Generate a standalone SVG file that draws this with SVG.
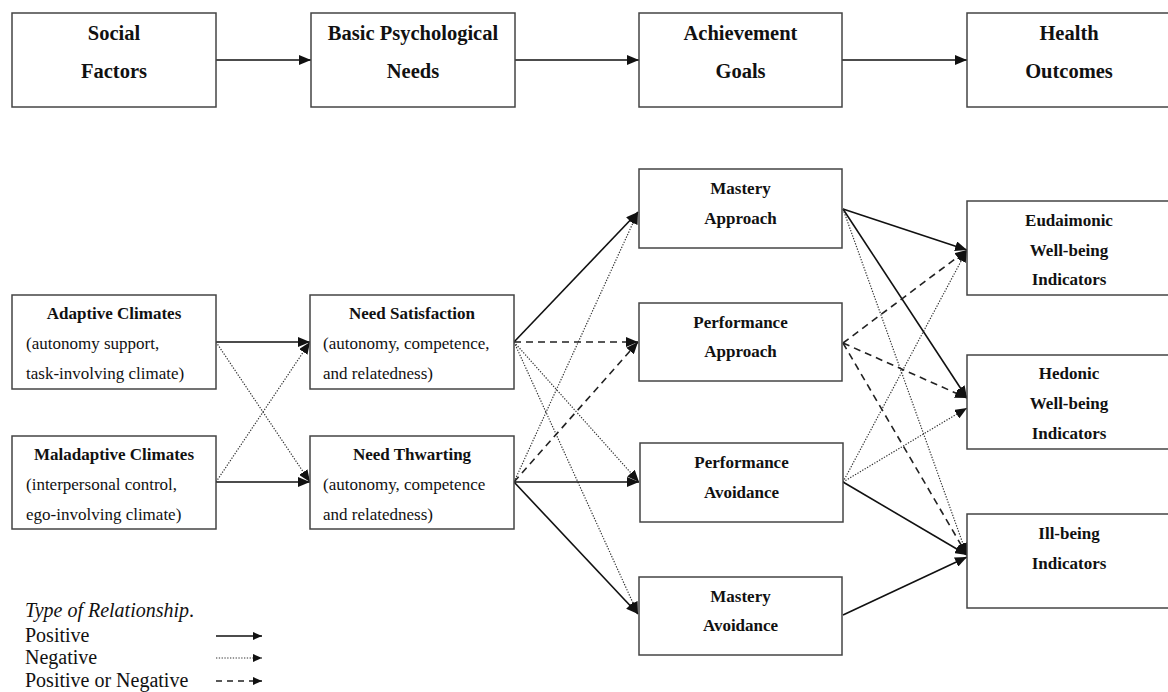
<svg xmlns="http://www.w3.org/2000/svg" width="1168" height="692" viewBox="0 0 1168 692">
<style>
  .box { fill: #fff; stroke: #444; stroke-width: 1.5; }
  .t { font-family: "Liberation Serif", "Times New Roman", serif; fill: #111; }
  .top { font-size: 20.5px; font-weight: bold; text-anchor: middle; }
  .h { font-size: 17px; font-weight: bold; text-anchor: middle; }
  .r { font-size: 17px; }
  .leg { font-size: 20px; }
  .sol { stroke: #111; stroke-width: 1.6; fill: none; marker-end: url(#ah); }
  .dot { stroke: #333; stroke-width: 1.2; stroke-dasharray: 1.3 1.5; fill: none; marker-end: url(#ah); }
  .dsh { stroke: #222; stroke-width: 1.6; stroke-dasharray: 7 5; fill: none; marker-end: url(#ah); }
  .lsol { stroke: #111; stroke-width: 1.6; fill: none; marker-end: url(#lah); }
  .ldot { stroke: #333; stroke-width: 1.2; stroke-dasharray: 1.3 1.5; fill: none; marker-end: url(#lah); }
  .ldsh { stroke: #222; stroke-width: 1.6; stroke-dasharray: 6 5; fill: none; marker-end: url(#lah); }
</style>
<defs>
  <marker id="ah" viewBox="0 0 12 10" refX="12" refY="5" markerWidth="12" markerHeight="10" markerUnits="userSpaceOnUse" orient="auto">
    <path d="M0,0 L12,5 L0,10 z" fill="#111"/>
  </marker>
  <marker id="lah" viewBox="0 0 9 8" refX="9" refY="4" markerWidth="9" markerHeight="8" markerUnits="userSpaceOnUse" orient="auto">
    <path d="M0,0 L9,4 L0,8 z" fill="#111"/>
  </marker>
</defs>
<rect width="1168" height="692" fill="#fff"/>

<g id="connectors">
  <line class="sol" x1="216" y1="60" x2="311" y2="60"/>
  <line class="sol" x1="515" y1="60" x2="639" y2="60"/>
  <line class="sol" x1="842" y1="60" x2="967" y2="60"/>

  <line class="sol" x1="216" y1="342" x2="310" y2="342"/>
  <line class="dot" x1="216" y1="342" x2="310" y2="482"/>
  <line class="dot" x1="216" y1="482" x2="310" y2="342"/>
  <line class="sol" x1="216" y1="482" x2="310" y2="482"/>

  <line class="sol" x1="514" y1="342" x2="638" y2="212"/>
  <line class="dsh" x1="514" y1="342" x2="638" y2="342"/>
  <line class="dot" x1="514" y1="342" x2="639" y2="482"/>
  <line class="dot" x1="514" y1="342" x2="638" y2="614"/>

  <line class="dot" x1="514" y1="482" x2="638" y2="212"/>
  <line class="dsh" x1="514" y1="482" x2="638" y2="342"/>
  <line class="sol" x1="514" y1="482" x2="639" y2="482"/>
  <line class="sol" x1="514" y1="482" x2="638" y2="614"/>

  <line class="sol" x1="843" y1="209" x2="967" y2="250"/>
  <line class="sol" x1="843" y1="209" x2="967" y2="398"/>
  <line class="dot" x1="843" y1="209" x2="967" y2="555"/>

  <line class="dsh" x1="843" y1="343" x2="967" y2="250"/>
  <line class="dsh" x1="843" y1="343" x2="967" y2="398"/>
  <line class="dsh" x1="843" y1="343" x2="967" y2="555"/>

  <line class="dot" x1="843" y1="482" x2="967" y2="250"/>
  <line class="dot" x1="843" y1="482" x2="967" y2="408"/>
  <line class="sol" x1="843" y1="482" x2="967" y2="555"/>

  <line class="sol" x1="843" y1="615" x2="967" y2="557"/>
</g>

<g id="social-factors">
  <rect class="box" x="12" y="13" width="204" height="94"/>
  <text class="t top" x="114" y="40">Social</text>
  <text class="t top" x="114" y="78">Factors</text>
</g>
<g id="basic-needs">
  <rect class="box" x="311" y="13" width="204" height="94"/>
  <text class="t top" x="413" y="40">Basic Psychological</text>
  <text class="t top" x="413" y="78">Needs</text>
</g>
<g id="achievement-goals">
  <rect class="box" x="639" y="13" width="203" height="94"/>
  <text class="t top" x="740.5" y="40">Achievement</text>
  <text class="t top" x="740.5" y="78">Goals</text>
</g>
<g id="health-outcomes">
  <rect class="box" x="967" y="13" width="204" height="94"/>
  <text class="t top" x="1069" y="40">Health</text>
  <text class="t top" x="1069" y="78">Outcomes</text>
</g>

<g id="adaptive-climates">
  <rect class="box" x="12" y="295" width="204" height="94"/>
  <text class="t h" x="114" y="319">Adaptive Climates</text>
  <text class="t r" x="26" y="349">(autonomy support,</text>
  <text class="t r" x="26" y="379">task-involving climate)</text>
</g>
<g id="maladaptive-climates">
  <rect class="box" x="12" y="436" width="204" height="93"/>
  <text class="t h" x="114" y="460">Maladaptive Climates</text>
  <text class="t r" x="26" y="490">(interpersonal control,</text>
  <text class="t r" x="26" y="520">ego-involving climate)</text>
</g>

<g id="need-satisfaction">
  <rect class="box" x="310" y="295" width="204" height="94"/>
  <text class="t h" x="412" y="319">Need Satisfaction</text>
  <text class="t r" x="323" y="349">(autonomy, competence,</text>
  <text class="t r" x="323" y="379">and relatedness)</text>
</g>
<g id="need-thwarting">
  <rect class="box" x="310" y="436" width="204" height="93"/>
  <text class="t h" x="412" y="460">Need Thwarting</text>
  <text class="t r" x="323" y="490">(autonomy, competence</text>
  <text class="t r" x="323" y="520">and relatedness)</text>
</g>

<g id="mastery-approach">
  <rect class="box" x="639" y="169" width="203" height="79"/>
  <text class="t h" x="740.5" y="194">Mastery</text>
  <text class="t h" x="740.5" y="224">Approach</text>
</g>
<g id="performance-approach">
  <rect class="box" x="639" y="303" width="203" height="78"/>
  <text class="t h" x="740.5" y="328">Performance</text>
  <text class="t h" x="740.5" y="357">Approach</text>
</g>
<g id="performance-avoidance">
  <rect class="box" x="640" y="443" width="203" height="79"/>
  <text class="t h" x="741.5" y="468">Performance</text>
  <text class="t h" x="741.5" y="498">Avoidance</text>
</g>
<g id="mastery-avoidance">
  <rect class="box" x="639" y="577" width="203" height="78"/>
  <text class="t h" x="740.5" y="602">Mastery</text>
  <text class="t h" x="740.5" y="631">Avoidance</text>
</g>

<g id="eudaimonic">
  <rect class="box" x="967" y="201" width="204" height="94"/>
  <text class="t h" x="1069" y="226">Eudaimonic</text>
  <text class="t h" x="1069" y="256">Well-being</text>
  <text class="t h" x="1069" y="285">Indicators</text>
</g>
<g id="hedonic">
  <rect class="box" x="967" y="355" width="204" height="94"/>
  <text class="t h" x="1069" y="379">Hedonic</text>
  <text class="t h" x="1069" y="409">Well-being</text>
  <text class="t h" x="1069" y="439">Indicators</text>
</g>
<g id="ill-being">
  <rect class="box" x="967" y="514" width="204" height="94"/>
  <text class="t h" x="1069" y="539">Ill-being</text>
  <text class="t h" x="1069" y="569">Indicators</text>
</g>

<g id="legend">
  <text class="t leg" x="25" y="617" font-style="italic">Type of Relationship<tspan font-style="normal">.</tspan></text>
  <text class="t leg" x="25" y="642">Positive</text>
  <text class="t leg" x="25" y="664">Negative</text>
  <text class="t leg" x="25" y="687">Positive or Negative</text>
  <line class="lsol" x1="216" y1="636" x2="262" y2="636"/>
  <line class="ldot" x1="216" y1="658" x2="262" y2="658"/>
  <line class="ldsh" x1="216" y1="681" x2="262" y2="681"/>
</g>
</svg>
